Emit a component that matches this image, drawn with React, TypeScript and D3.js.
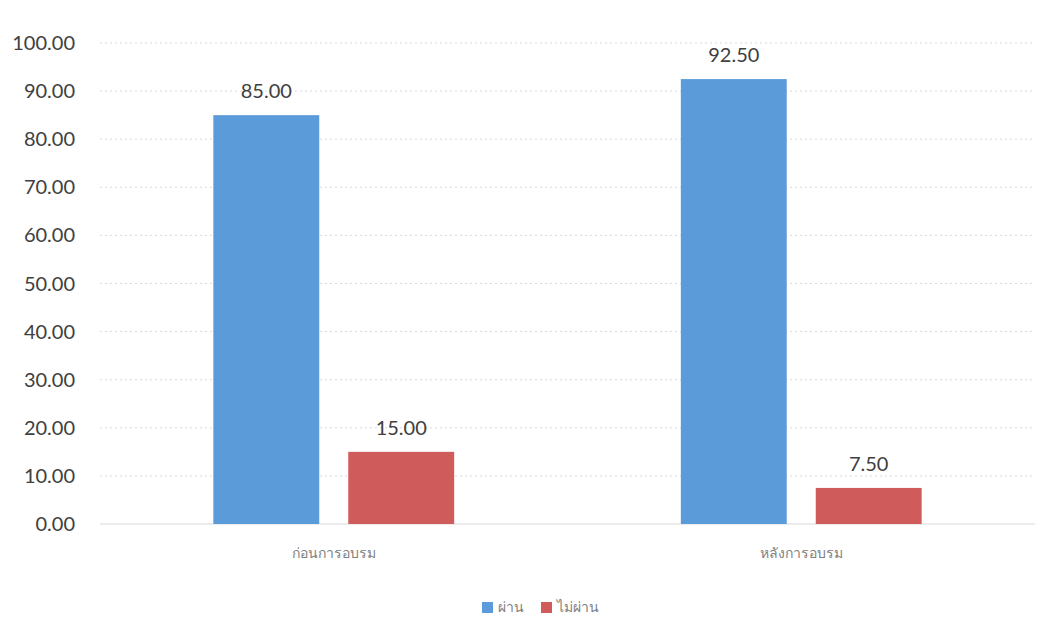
import React, { useEffect, useRef } from 'react';
import * as d3 from 'd3';

const categories = ['ก่อนการอบรม', 'หลังการอบรม'];
const seriesNames = ['ผ่าน', 'ไม่ผ่าน'];
const passValues = [85.0, 92.5];
const failValues = [15.0, 7.5];
const yTicks = [0, 10, 20, 30, 40, 50, 60, 70, 80, 90, 100];
const colors = ['#5b9bd9', '#cf5b5b'];

const App: React.FC = () => {
  const svgRef = useRef<SVGSVGElement>(null);

  useEffect(() => {
    if (!svgRef.current) return;
    const svg = d3.select(svgRef.current);
    svg.selectAll('*').remove();

    const width = 1055;
    const height = 618;
    const left = 100;
    const right = 1035;
    const top = 43;
    const bottom = 524;
    const font = "Lato, 'Noto Sans', sans-serif";

    svg.append('rect').attr('width', width).attr('height', height).attr('fill', '#ffffff');

    const x = d3.scaleBand<string>().domain(categories).range([left, right]);
    const inner = d3.scaleBand<string>()
      .domain(seriesNames)
      .range([0, x.bandwidth()])
      .paddingInner(0.215)
      .paddingOuter(0.84);
    const y = d3.scaleLinear().domain([0, 100]).range([bottom, top]);

    // gridlines
    svg.append('g')
      .selectAll('line')
      .data(yTicks)
      .join('line')
      .attr('x1', left)
      .attr('x2', right)
      .attr('y1', d => y(d))
      .attr('y2', d => y(d))
      .attr('stroke', '#d9d9d9')
      .attr('stroke-width', 1)
      .attr('stroke-dasharray', d => (d === 0 ? null : '2,3'));

    // y labels
    svg.append('g')
      .selectAll('text')
      .data(yTicks)
      .join('text')
      .attr('x', 75)
      .attr('y', d => y(d))
      .attr('dy', '0.35em')
      .attr('text-anchor', 'end')
      .attr('font-family', font)
      .attr('font-size', 20)
      .attr('fill', '#404040')
      .text(d => d.toFixed(2));

    const rows = categories.map((c, i) => ({ cat: c, vals: [passValues[i], failValues[i]] }));

    const groups = svg.append('g')
      .selectAll('g')
      .data(rows)
      .join('g')
      .attr('transform', d => `translate(${x(d.cat)},0)`);

    groups.selectAll('rect')
      .data(d => d.vals.map((v, j) => ({ key: seriesNames[j], v, j })))
      .join('rect')
      .attr('x', d => inner(d.key)!)
      .attr('width', inner.bandwidth())
      .attr('y', d => y(d.v))
      .attr('height', d => y(0) - y(d.v))
      .attr('fill', d => colors[d.j]);

    groups.selectAll('text.val')
      .data(d => d.vals.map((v, j) => ({ key: seriesNames[j], v, j })))
      .join('text')
      .attr('class', 'val')
      .attr('x', d => inner(d.key)! + inner.bandwidth() / 2)
      .attr('y', d => y(d.v) - 17)
      .attr('text-anchor', 'middle')
      .attr('font-family', font)
      .attr('font-size', 20)
      .attr('fill', '#404040')
      .text(d => d.v.toFixed(2));

    // x labels
    svg.append('g')
      .selectAll('text')
      .data(categories)
      .join('text')
      .attr('x', d => x(d)! + x.bandwidth() / 2)
      .attr('y', 558)
      .attr('text-anchor', 'middle')
      .attr('font-family', font)
      .attr('font-size', 14)
      .attr('fill', '#7f7f7f')
      .text(d => d);

    // legend
    const legend = svg.append('g').attr('transform', 'translate(482,601)');
    const items = legend.selectAll('g')
      .data(seriesNames)
      .join('g')
      .attr('transform', (d, i) => `translate(${i * 59},0)`);
    items.append('rect')
      .attr('width', 11)
      .attr('height', 11)
      .attr('y', 1)
      .attr('fill', (d, i) => colors[i]);
    items.append('text')
      .attr('x', 16)
      .attr('y', 11)
      .attr('font-family', font)
      .attr('font-size', 14)
      .attr('fill', '#7f7f7f')
      .text(d => d);
  }, []);

  return (
    <svg
      ref={svgRef}
      width={1055}
      height={618}
      style={{ position: 'absolute', left: 0, top: 0, display: 'block' }}
    />
  );
};

export default App;
